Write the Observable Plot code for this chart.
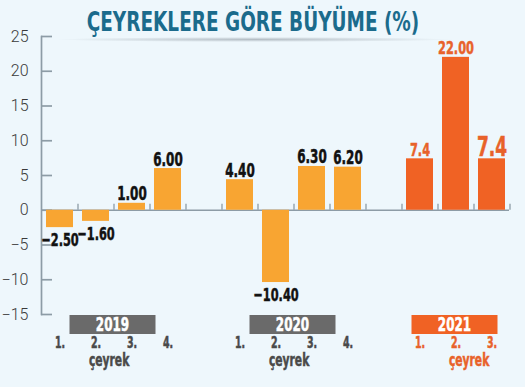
<!DOCTYPE html>
<html><head><meta charset="utf-8">
<script src="https://cdn.jsdelivr.net/npm/d3@7"></script>
<script src="https://cdn.jsdelivr.net/npm/@observablehq/plot@0.6"></script>
<style>
html,body{margin:0;padding:0;background:#eef7fc;}
#wrap{position:relative;width:525px;height:387px;overflow:hidden;background:#eef7fc;}
#title{position:absolute;top:6px;left:0;width:506px;text-align:center;font-weight:bold;font-size:27px;font-family:"DejaVu Sans Condensed","Liberation Sans Narrow",sans-serif;color:#1b6b8c;z-index:2;white-space:nowrap;transform:scaleX(0.76);transform-origin:253px 50%;}
#shadow{position:absolute;top:37px;left:55px;width:400px;height:5px;background:radial-gradient(ellipse at center, rgba(110,120,130,0.45) 0%, rgba(110,120,130,0) 70%);z-index:1;}
#chart{position:absolute;top:0;left:0;}
</style></head>
<body>
<div id="wrap"><div id="title">ÇEYREKLERE GÖRE BÜYÜME (%)</div><div id="shadow"></div><div id="chart"></div></div>
<script>
// ---- data ----
const years = ["2019", "2020", "2021"];
const quarters2019 = ["1.", "2.", "3.", "4."];
const quarters2020 = ["1.", "2.", "3.", "4."];
const quarters2021 = ["1.", "2.", "3."];
const values2019 = [-2.5, -1.6, 1.0, 6.0];
const values2020 = [4.4, -10.4, 6.3, 6.2];
const values2021 = [7.4, 22.0, 7.4];
const labels2019 = ["−2.50", "−1.60", "1.00", "6.00"];
const labels2020 = ["4.40", "−10.40", "6.30", "6.20"];
const labels2021 = ["7.4", "22.00", "7.4"];
const yTicks = [-15, -10, -5, 0, 5, 10, 15, 20, 25];
const quarterWord = "çeyrek";

// ---- build table ----
const quarters = [quarters2019, quarters2020, quarters2021];
const values = [values2019, values2020, values2021];
const labels = [labels2019, labels2020, labels2021];
const rows = [];
const slots = [];
years.forEach((yr, i) => {
  quarters[i].forEach((q, j) => {
    const slot = `${yr}-${q}`;
    slots.push(slot);
    rows.push({slot, year: yr, q, value: values[i][j], label: labels[i][j], last: i === years.length - 1, qi: j});
  });
  if (i < years.length - 1) slots.push(`gap-${yr}`);
});

const axisColor = "#8d9ca6";
const barOld = "#f8a532";
const barNew = "#f06224";
const txtNew = "#e8622a";
const narrow = "'DejaVu Sans Condensed','Liberation Sans Narrow',sans-serif";
const squeeze = 0.7;

const W = 525, H = 387, ML = 41, MR = 16, MT = 36, MB = 73;
const step = (W - ML - MR) / slots.length;

function labelSize(d) {
  if (d.last) return d.qi === 2 ? 27 : 18;
  return d.value < 0 ? 18 : 19;
}

function yearBoxes(index, scales, values, dimensions) {
  const sx = scales.x;
  const bw = typeof sx.bandwidth === "function" ? sx.bandwidth() : sx.bandwidth;
  const g = d3.create("svg:g");
  const bottom = dimensions.height - dimensions.marginBottom;
  years.forEach((yr, i) => {
    const qs = quarters[i];
    const a = sx(`${yr}-${qs[0]}`) + bw / 2;
    const b = sx(`${yr}-${qs[qs.length - 1]}`) + bw / 2;
    const c = (a + b) / 2 - 1;
    const w = 86;
    g.append("rect").attr("x", c - w / 2).attr("y", bottom + 1).attr("width", w).attr("height", 19)
      .attr("fill", i === years.length - 1 ? barNew : "#6a6a6a");
    g.append("text").attr("x", c).attr("y", bottom + 16.5).attr("text-anchor", "middle")
      .attr("fill", "white").attr("font-weight", "bold").attr("font-size", 19)
      .attr("font-family", narrow).text(yr);
  });
  return g.node();
}

const chart = Plot.plot({
  width: W, height: H,
  marginLeft: ML, marginRight: MR, marginTop: MT, marginBottom: MB,
  style: {background: "transparent", overflow: "visible", fontFamily: narrow},
  x: {type: "band", domain: slots, paddingInner: 0.26, paddingOuter: 0.13, axis: null},
  y: {domain: [-15, 25], axis: null},
  marks: [
    Plot.frame({anchor: "left", stroke: axisColor, strokeWidth: 1.7}),
    Plot.ruleY(yTicks, {y: d => d, stroke: axisColor, strokeWidth: 1.7, insetRight: W - ML - MR - 11}),
    Plot.ruleY([0], {stroke: axisColor, strokeWidth: 1.7}),
    Plot.ruleX(slots, {x: d => d, y1: 0, y2: 0, dx: step / 2, insetTop: -6, stroke: axisColor, strokeWidth: 1.3}),
    Plot.barY(rows, {x: "slot", y: "value", fill: d => d.last ? barNew : barOld}),
    Plot.text(yTicks, {y: d => d, frameAnchor: "left", dx: -13, textAnchor: "end",
      text: d => d3.format("d")(d).replace("-", "−"), fontSize: 16, fontWeight: 300, fill: "#3a3a3a",
      fontFamily: "Roboto, sans-serif"}),
    Plot.text(rows.filter(d => d.value >= 0), {x: "slot", y: "value", text: "label", lineAnchor: "bottom", dy: -3,
      fontSize: labelSize, fontWeight: "bold", fill: d => d.last ? txtNew : "#111"}),
    Plot.text(rows.filter(d => d.value < 0), {x: "slot", y: "value", text: "label", lineAnchor: "top", dy: 6,
      fontSize: labelSize, fontWeight: "bold", fill: "#111"}),
    yearBoxes,
    Plot.text(rows, {x: "slot", text: "q", frameAnchor: "bottom", lineAnchor: "middle", dy: 28.5, fontSize: 15, fontWeight: "bold",
      fill: d => d.last ? txtNew : "#4a4a4a"}),
    Plot.text(years, {x: yr => `${yr}-2.`, text: () => quarterWord, frameAnchor: "bottom", lineAnchor: "middle", dy: 46, dx: -7,
      textAnchor: "start", fontSize: 17, fontWeight: "bold",
      fill: (yr) => yr === years[years.length - 1] ? txtNew : "#4a4a4a"})
  ]
});
document.getElementById("chart").appendChild(chart);
// condense the bold labels horizontally (no narrow font is installed) and thicken strokes
d3.select(chart).selectAll("text").each(function () {
  const cs = getComputedStyle(this);
  if (cs.fontFamily.includes("Roboto")) return;
  const len = this.getComputedTextLength();
  if (len > 0) {
    this.setAttribute("textLength", (len * squeeze).toFixed(2));
    this.setAttribute("lengthAdjust", "spacingAndGlyphs");
    this.style.stroke = cs.fill;
    this.style.strokeWidth = "0.5px";
  }
});
</script>
</body></html>
